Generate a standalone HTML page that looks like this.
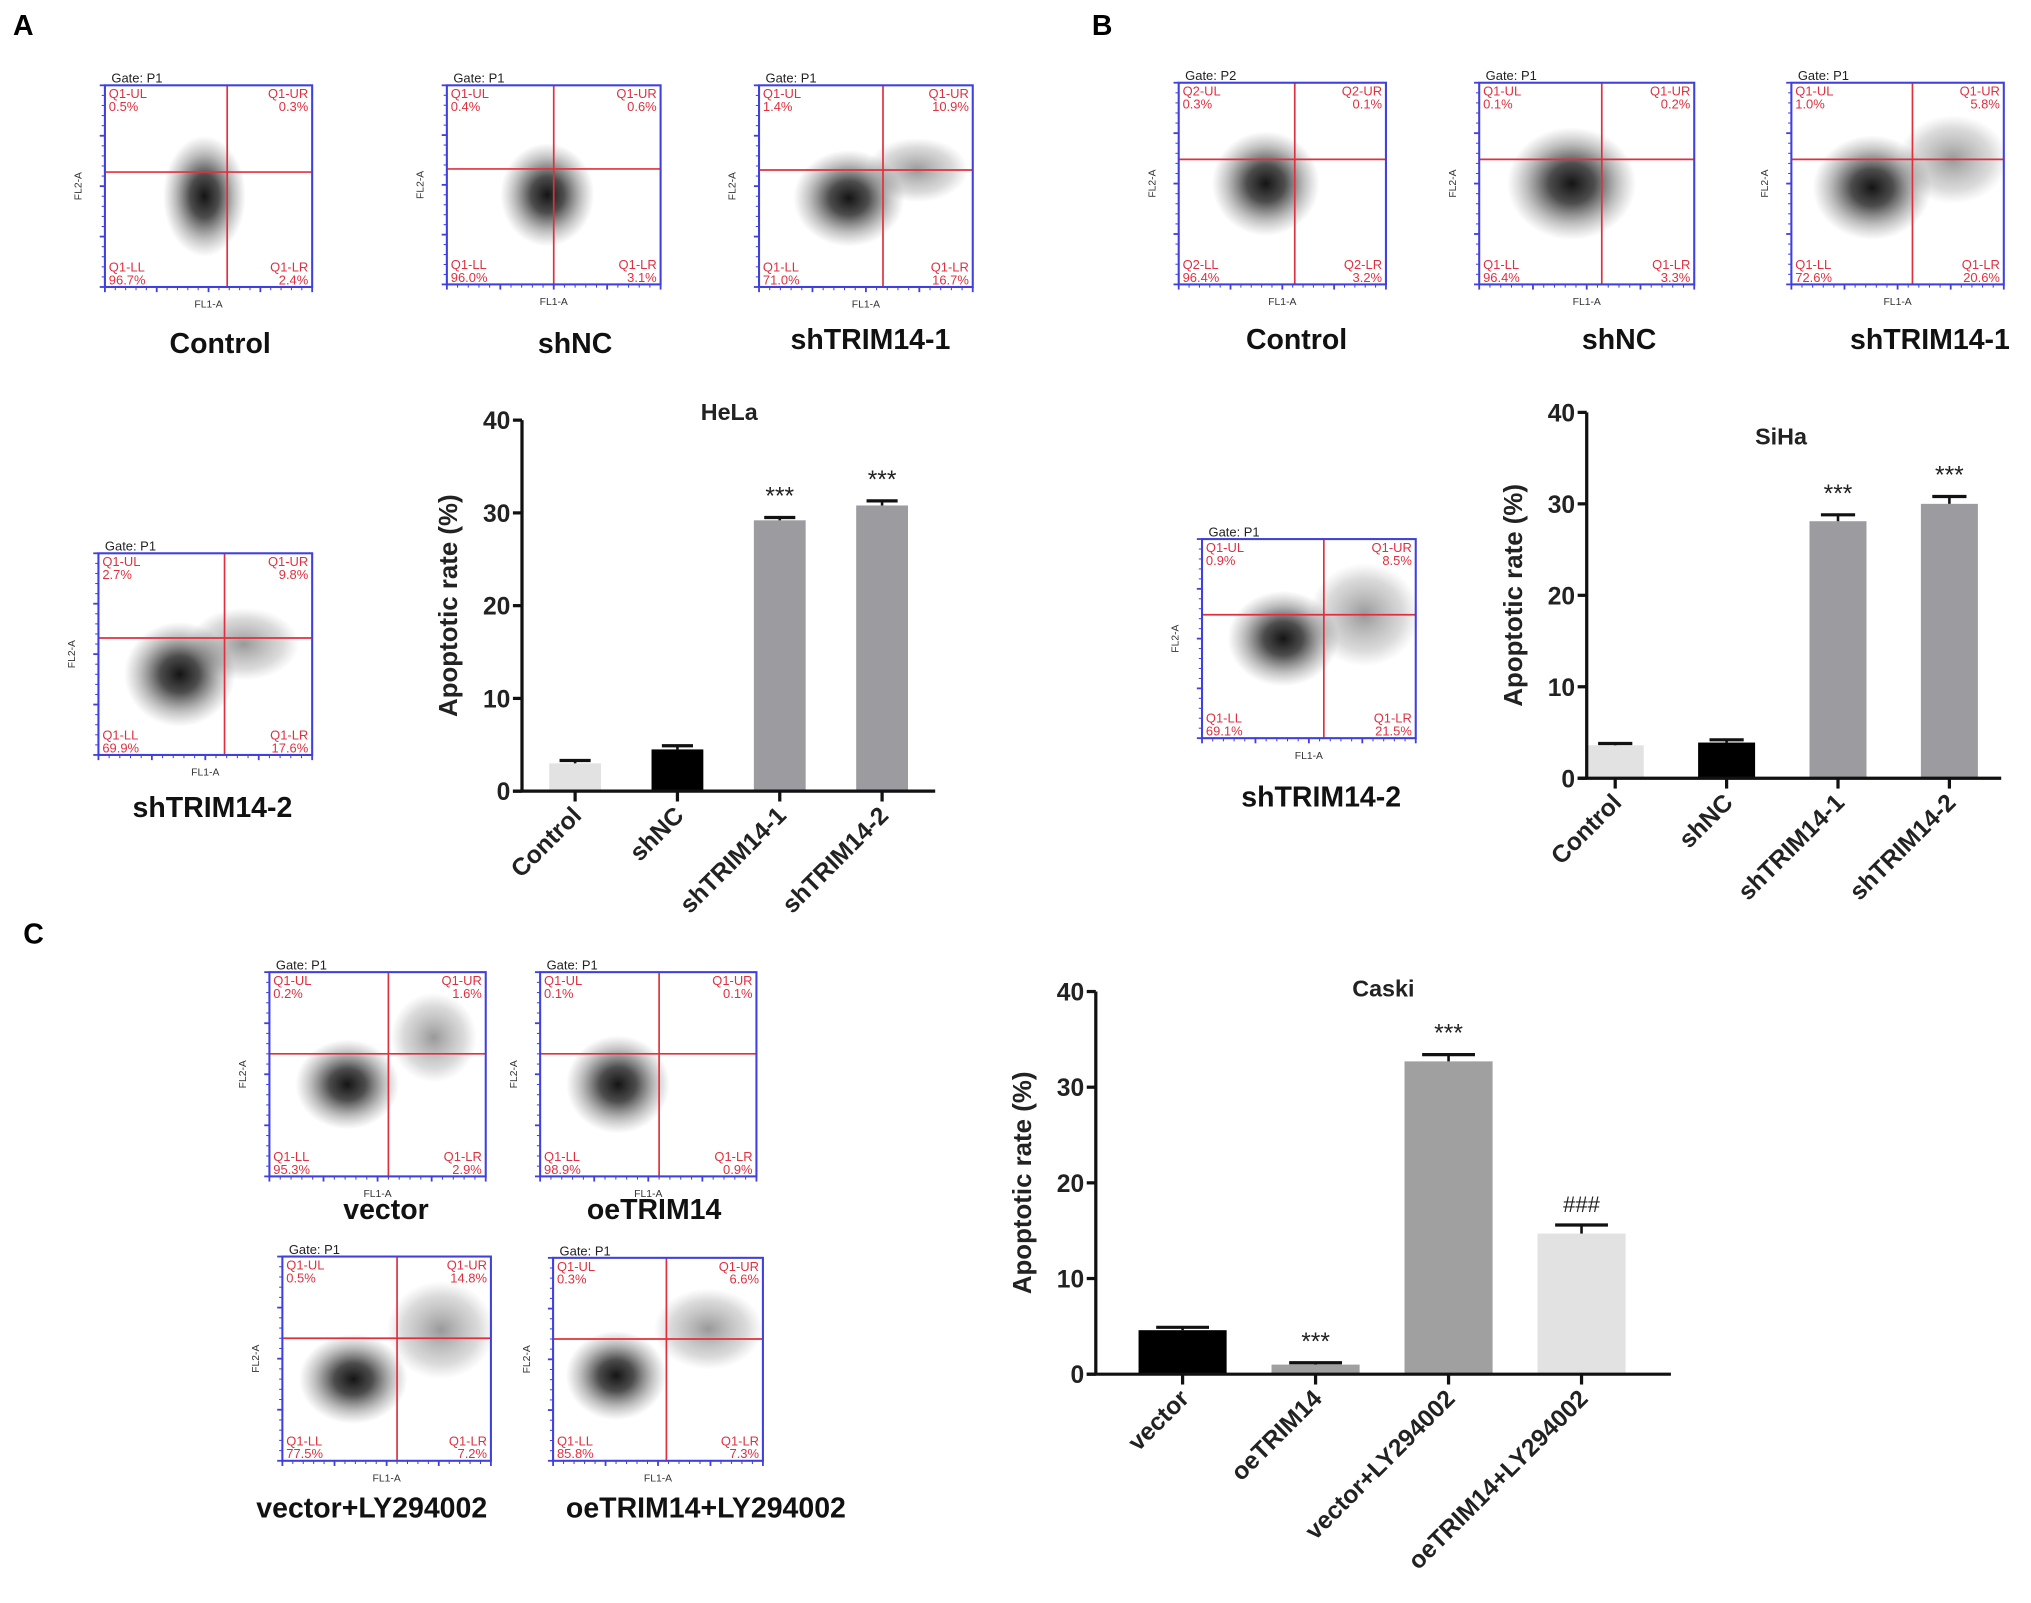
<!DOCTYPE html>
<html><head><meta charset="utf-8">
<style>
html,body{margin:0;padding:0;background:#fff;}
svg{display:block;font-family:"Liberation Sans",Arial,sans-serif;}
</style></head>
<body>
<svg id="fig" width="2031" height="1603" viewBox="0 0 1568 1240" preserveAspectRatio="none">
<defs>
<radialGradient id="cloud" cx="50%" cy="50%" r="50%">
<stop offset="0%" stop-color="#000" stop-opacity="0.92"/>
<stop offset="35%" stop-color="#000" stop-opacity="0.7"/>
<stop offset="70%" stop-color="#222" stop-opacity="0.3"/>
<stop offset="100%" stop-color="#444" stop-opacity="0"/>
</radialGradient>
<radialGradient id="cloudLight" cx="50%" cy="50%" r="50%">
<stop offset="0%" stop-color="#000" stop-opacity="0.4"/>
<stop offset="70%" stop-color="#333" stop-opacity="0.18"/>
<stop offset="100%" stop-color="#555" stop-opacity="0"/>
</radialGradient>
</defs>
<text x="10" y="27" font-size="22" font-weight="bold">A</text>
<text x="843" y="27" font-size="22" font-weight="bold">B</text>
<text x="18" y="730" font-size="22" font-weight="bold">C</text>
<g id="flows"></g>
<g id="charts"></g>
</svg>
<script>
const NS="http://www.w3.org/2000/svg";
function mk(tag,attrs,parent,txt){const e=document.createElementNS(NS,tag);for(const k in attrs)e.setAttribute(k,attrs[k]);if(txt!==undefined)e.textContent=txt;parent.appendChild(e);return e;}

/* ---------- flow cytometry plots ---------- */
const flowNames=["control-a","shnc-a","shtrim14-1-a","shtrim14-2-a","control-b","shnc-b","shtrim14-1-b","shtrim14-2-b","vector-c","oetrim14-c","vector-ly-c","oetrim14-ly-c"];
const flowBoxes=[[81,66,160,156],[345,66,165,154],[586,66,165,156],[76,428,165,156],[910,64,160,156],[1142,64,166,156],[1383,64,164,156],[928,417,165,154],[208,752,167,158],[417,752,167,158],[218,972,161,158],[427,973,162,157]];
const flowQuad=[[0.59,0.43],[0.5,0.42],[0.58,0.42],[0.59,0.42],[0.56,0.38],[0.57,0.38],[0.57,0.38],[0.57,0.38],[0.55,0.4],[0.55,0.4],[0.55,0.4],[0.54,0.4]];
const flowGate=["P1","P1","P1","P1","P2","P1","P1","P1","P1","P1","P1","P1"];
const flowQ=[["Q1","0.5%","0.3%","96.7%","2.4%"],["Q1","0.4%","0.6%","96.0%","3.1%"],["Q1","1.4%","10.9%","71.0%","16.7%"],["Q1","2.7%","9.8%","69.9%","17.6%"],["Q2","0.3%","0.1%","96.4%","3.2%"],["Q1","0.1%","0.2%","96.4%","3.3%"],["Q1","1.0%","5.8%","72.6%","20.6%"],["Q1","0.9%","8.5%","69.1%","21.5%"],["Q1","0.2%","1.6%","95.3%","2.9%"],["Q1","0.1%","0.1%","98.9%","0.9%"],["Q1","0.5%","14.8%","77.5%","7.2%"],["Q1","0.3%","6.6%","85.8%","7.3%"]];
const flowClouds=[[[0.48,0.55,0.2,0.3,1]],[[0.47,0.55,0.22,0.26,1]],[[0.42,0.56,0.26,0.24,1],[0.74,0.42,0.24,0.16,0]],[[0.38,0.6,0.26,0.26,1],[0.68,0.45,0.26,0.18,0]],[[0.42,0.5,0.26,0.26,1]],[[0.43,0.5,0.3,0.28,1]],[[0.38,0.52,0.28,0.26,1],[0.76,0.38,0.26,0.22,0]],[[0.38,0.5,0.26,0.24,1],[0.76,0.38,0.26,0.26,0]],[[0.36,0.55,0.24,0.22,1],[0.76,0.32,0.2,0.22,0]],[[0.36,0.55,0.24,0.24,1]],[[0.34,0.6,0.26,0.22,1],[0.76,0.36,0.26,0.24,0]],[[0.3,0.58,0.24,0.22,1],[0.74,0.35,0.26,0.2,0]]];
const flowLabels=[["Control",170,273],["shNC",444,273],["shTRIM14-1",672,270],["shTRIM14-2",164,632],["Control",1001,270],["shNC",1250,270],["shTRIM14-1",1490,270],["shTRIM14-2",1020,624],["vector",298,943],["oeTRIM14",505,943],["vector+LY294002",287,1174],["oeTRIM14+LY294002",545,1174]];
const fg=document.getElementById('flows');
flowBoxes.forEach((b,i)=>{
  const [x,y,w,h]=b;
  const g=mk('g',{},fg);
  
  
  flowClouds[i].forEach(c=>{
    const el=mk('ellipse',{cx:x+c[0]*w,cy:y+c[1]*h,rx:c[2]*w,ry:c[3]*h,fill:c[4]?'url(#cloud)':'url(#cloudLight)'},g);
    
    
  });
  const qx=x+flowQuad[i][0]*w,qy=y+flowQuad[i][1]*h;
  mk('line',{x1:qx,y1:y,x2:qx,y2:y+h,stroke:'#e0303f','stroke-width':1.3},g);
  mk('line',{x1:x,y1:qy,x2:x+w,y2:qy,stroke:'#e0303f','stroke-width':1.3},g);
  const r=mk('rect',{x:x,y:y,width:w,height:h,fill:'none',stroke:'#4040e0','stroke-width':1.6},g);
  
  
  for(let k=0;k<=4;k++){mk('line',{x1:x-4,y1:y+k*h/4,x2:x,y2:y+k*h/4,stroke:'#4040e0','stroke-width':1.4},g);
    mk('line',{x1:x+k*w/4,y1:y+h,x2:x+k*w/4,y2:y+h+4,stroke:'#4040e0','stroke-width':1.4},g);}
  for(let k=0;k<20;k++){mk('line',{x1:x-2.5,y1:y+k*h/20,x2:x,y2:y+k*h/20,stroke:'#4040e0','stroke-width':0.8},g);
    mk('line',{x1:x+k*w/20,y1:y+h,x2:x+k*w/20,y2:y+h+2.5,stroke:'#4040e0','stroke-width':0.8},g);}
  mk('text',{x:x+5,y:y-2,'font-size':10,fill:'#222'},g,'Gate: '+flowGate[i]);
  const q=flowQ[i],fs=10,col='#e0303f';
  mk('text',{x:x+3,y:y+10,'font-size':fs,fill:col},g,q[0]+'-UL');
  mk('text',{x:x+3,y:y+20,'font-size':fs,fill:col},g,q[1]);
  mk('text',{x:x+w-3,y:y+10,'font-size':fs,fill:col,'text-anchor':'end'},g,q[0]+'-UR');
  mk('text',{x:x+w-3,y:y+20,'font-size':fs,fill:col,'text-anchor':'end'},g,q[2]);
  mk('text',{x:x+3,y:y+h-12,'font-size':fs,fill:col},g,q[0]+'-LL');
  mk('text',{x:x+3,y:y+h-2,'font-size':fs,fill:col},g,q[3]);
  mk('text',{x:x+w-3,y:y+h-12,'font-size':fs,fill:col,'text-anchor':'end'},g,q[0]+'-LR');
  mk('text',{x:x+w-3,y:y+h-2,'font-size':fs,fill:col,'text-anchor':'end'},g,q[4]);
  mk('text',{x:x+w/2,y:y+h+16,'font-size':8,fill:'#333','text-anchor':'middle'},g,'FL1-A');
  mk('text',{x:x-18,y:y+h/2,'font-size':8,fill:'#333','text-anchor':'middle',transform:`rotate(-90 ${x-18} ${y+h/2})`},g,'FL2-A');
  const lb=flowLabels[i];
  const t=mk('text',{x:lb[1],y:lb[2],'font-size':22,'font-weight':'bold','text-anchor':'middle',fill:'#111'},fg,lb[0]);
  
  
});

/* ---------- bar charts ---------- */
const helaCats=["Control","shNC","shTRIM14-1","shTRIM14-2"];
const helaVals=[3.0,4.5,29.2,30.8];
const helaErr=[0.3,0.4,0.3,0.5];
const helaSig=["","","***","***"];
const sihaCats=["Control","shNC","shTRIM14-1","shTRIM14-2"];
const sihaVals=[3.6,3.9,28.1,30.0];
const sihaErr=[0.2,0.3,0.7,0.8];
const sihaSig=["","","***","***"];
const caskiCats=["vector","oeTRIM14","vector+LY294002","oeTRIM14+LY294002"];
const caskiVals=[4.6,1.0,32.7,14.7];
const caskiErr=[0.3,0.2,0.7,0.9];
const caskiSig=["","***","***","###"];
const yTicks=[0,10,20,30,40];

const cg=document.getElementById('charts');
function barChart(cfg){
  const g=mk('g',{},cg);
  
  
  const y=v=>cfg.y0-(v/40)*(cfg.y0-cfg.y40);
  const n=cfg.cats.length,step=(cfg.bEnd-cfg.bStart)/(n-1);
  const xc=i=>cfg.bStart+step*i;
  yTicks.forEach(t=>{
    mk('line',{x1:cfg.x0-7,y1:y(t),x2:cfg.x0,y2:y(t),stroke:'#111','stroke-width':2.5},g);
    const tl=mk('text',{x:cfg.x0-9,y:y(t)+7,'font-size':19,'font-weight':'bold','text-anchor':'end',fill:'#222'},g,String(t));
    
    
  });
  cfg.cats.forEach((c,i)=>{
    const bh=y(0)-y(cfg.vals[i]);
    const r=mk('rect',{x:xc(i)-cfg.bw/2,y:y(cfg.vals[i]),width:cfg.bw,height:bh,fill:cfg.colors[i]},g);
    
    
    const yt=y(cfg.vals[i]+cfg.err[i]);
    mk('line',{x1:xc(i),y1:y(cfg.vals[i]),x2:xc(i),y2:yt,stroke:'#111','stroke-width':2},g);
    mk('line',{x1:xc(i)-cfg.bw*0.3,y1:yt,x2:xc(i)+cfg.bw*0.3,y2:yt,stroke:'#111','stroke-width':2.5},g);
    if(cfg.sig[i]){const s=mk('text',{x:xc(i),y:yt-10,'font-size':cfg.sig[i]==='###'?17:19,'text-anchor':'middle',fill:'#222'},g,cfg.sig[i]);
      
      }
    mk('line',{x1:xc(i),y1:y(0),x2:xc(i),y2:y(0)+8,stroke:'#111','stroke-width':2.5},g);
    const lx=xc(i)+6,ly=y(0)+20;
    const tl=mk('text',{x:lx,y:ly,'font-size':19,'font-weight':'bold','text-anchor':'end',fill:'#222',transform:`rotate(-45 ${lx} ${ly})`},g,c);
    
    
  });
  mk('line',{x1:cfg.x0,y1:cfg.y40,x2:cfg.x0,y2:y(0)+1,stroke:'#111','stroke-width':2.5},g);
  mk('line',{x1:cfg.x0-7,y1:y(0),x2:cfg.xEnd,y2:y(0),stroke:'#111','stroke-width':2.5},g);
  const tt=mk('text',{x:cfg.tx,y:cfg.ty,'font-size':18,'font-weight':'bold','text-anchor':'middle',fill:'#222'},g,cfg.title);
  
  
  const ax=cfg.x0-50,ay=(cfg.y40+y(0))/2;
  const yl=mk('text',{x:ax,y:ay,'font-size':20,'font-weight':'bold','text-anchor':'middle',fill:'#222',transform:`rotate(-90 ${ax} ${ay})`},g,'Apoptotic rate (%)');
  
  
}
barChart({name:'hela-bar-chart',cats:helaCats,vals:helaVals,err:helaErr,sig:helaSig,x0:403,xEnd:722,bStart:444,bEnd:681,y0:612,y40:325,bw:40,colors:['#e2e2e2','#000','#9c9ca0','#9c9ca0'],title:'HeLa',tx:563,ty:325});
barChart({name:'siha-bar-chart',cats:sihaCats,vals:sihaVals,err:sihaErr,sig:sihaSig,x0:1225,xEnd:1545,bStart:1247,bEnd:1505,y0:602,y40:319,bw:44,colors:['#e2e2e2','#000','#9c9ca0','#9c9ca0'],title:'SiHa',tx:1375,ty:344});
barChart({name:'caski-bar-chart',cats:caskiCats,vals:caskiVals,err:caskiErr,sig:caskiSig,x0:846,xEnd:1290,bStart:913,bEnd:1221,y0:1063,y40:767,bw:68,colors:['#000','#a0a0a0','#a0a0a0','#e2e2e2'],title:'Caski',tx:1068,ty:771});
</script>
</body></html>
